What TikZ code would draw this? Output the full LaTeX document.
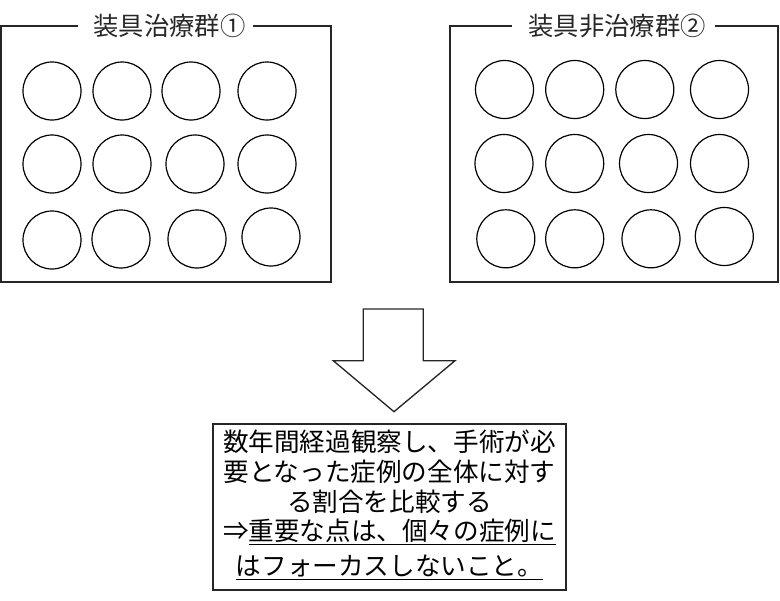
\documentclass[tikz,border=0pt]{standalone}
\usepackage{fontspec}
\setmainfont{Noto Sans CJK JP}
\begin{document}
\begin{tikzpicture}[x=0.75pt,y=-0.75pt,
  frame/.style={line width=1.1pt,draw=black!85},
  ball/.style={circle,draw=black,line width=0.9pt,minimum size=43.5pt,inner sep=0pt},
  ttl/.style={font=\fontsize{19pt}{22pt}\selectfont,text=black!85,inner sep=0pt},
  body/.style={font=\fontsize{19.2pt}{22.2pt}\selectfont,align=center,inner sep=0pt}]
\useasboundingbox (0,0) rectangle (780,600);
% left group
\node[ttl] (t1) at (169.5,26) {装具治療群①};
\coordinate (l1a) at (78,26);
\coordinate (l1b) at (253,26);
\draw[frame] (l1a) -- (1,26) -- (1,282) -- (331,282) -- (331,26) -- (l1b);
\foreach \n/\x/\y in {a/52/91,b/122/91,c/191/91,d/267/91,
                      e/52/164,f/122/164,g/195/164,h/267/164,
                      i/52/240,j/121/239,k/197/239,l/271/237}
  \node[ball] (L\n) at (\x,\y) {};
% right group
\node[ttl] (t2) at (617,26) {装具非治療群②};
\coordinate (r1a) at (512,26);
\coordinate (r1b) at (715,26);
\draw[frame] (r1a) -- (450,26) -- (450,282) -- (778,282) -- (778,26) -- (r1b);
\foreach \n/\x/\y in {a/504.5/89.5,b/574.7/89.5,c/644.8/89.5,d/719.5/89.5,
                      e/504/163.5,f/574.7/163.5,g/648.5/163.5,h/719.5/163.5,
                      i/505.8/238.8,j/574.7/238.8,k/651/238.8,l/724.3/236.5}
  \node[ball] (R\n) at (\x,\y) {};
% block arrow
\draw[frame,line width=1pt] (363.3,309) -- (423.3,309) -- (423.3,360.7) -- (455,360.7)
  -- (394,411.7) -- (333.3,360.7) -- (363.3,360.7) -- cycle;
% result box
\draw[frame] (213,424) rectangle (566,590);
\node[body] (res) at (389.5,505) {数年間経過観察し、手術が必\\要となった症例の全体に対す\\る割合を比較する\\⇒\underline{重要な点は、個々の症例に}\\[4pt]\underline{はフォーカスしないこと。}};
\end{tikzpicture}
\end{document}
